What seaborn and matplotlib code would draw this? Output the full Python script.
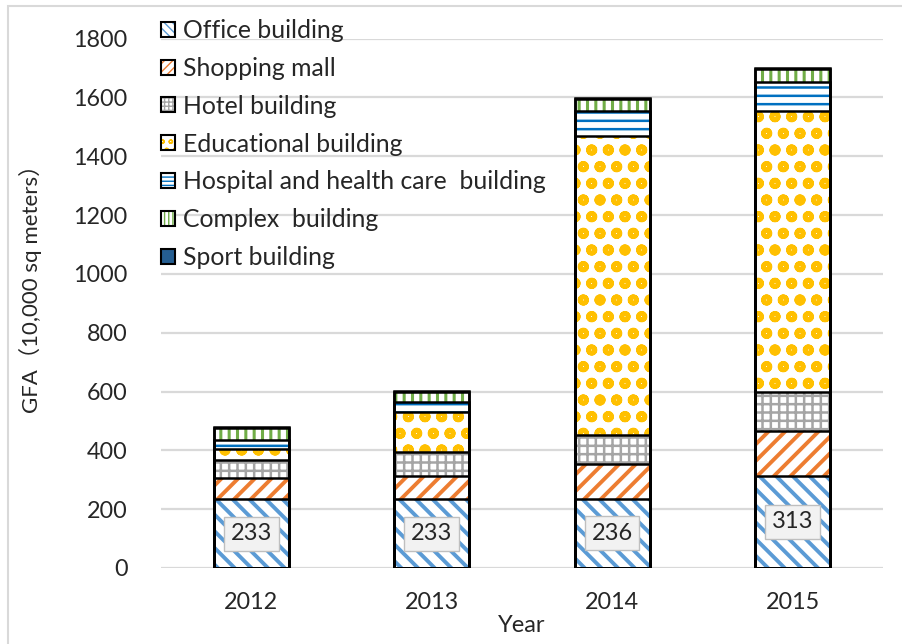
import matplotlib
matplotlib.use("Agg")
import matplotlib.pyplot as plt
import seaborn as sns
import pandas as pd
from matplotlib.patches import Patch, Rectangle
from matplotlib.legend_handler import HandlerTuple

# values (10,000 sq meters)
years = ["2012", "2013", "2014", "2015"]
office = [233, 233, 236, 313]
shopping = [73, 81, 118, 154]
hotel = [61, 80, 98, 131]
educational = [38, 138, 1015, 955]
hospital = [30, 34, 88, 99]
complex_b = [42, 34, 41, 46]
sport = [2, 2, 2, 2]

names = ["Office building", "Shopping mall", "Hotel building", "Educational building",
         "Hospital and health care  building", "Complex  building", "Sport building"]
series = [office, shopping, hotel, educational, hospital, complex_b, sport]
colors = ["#5B9BD5", "#ED7D31", "#A5A5A5", "#FFC000", "#0070C0", "#70AD47", "#255E91"]
hatches = ["\\\\", "//", "++", "o", "--", "||", None]
legend_hatches = ["\\\\\\\\", "////", "++++", "oo", "----", "||||", None]
hatch_lw = [2.8, 2.8, 1.8, 3.3, 1.8, 2.2, 1.0]

sns.set_style("white")
plt.rcParams["font.family"] = ["Lato", "Noto Sans CJK SC", "DejaVu Sans"]

df = pd.DataFrame({n: v for n, v in zip(names, series)}, index=years)
cum = df.cumsum(axis=1)

fig = plt.figure(figsize=(9.02, 6.44), dpi=100)
ax = fig.add_axes([161 / 902, 1 - 568 / 644, 722 / 902, (568 - 38.5) / 644])

bar_w = 0.415
# hatched fills, top layer first so lower layers cover them
for k in range(len(names) - 1, -1, -1):
    n = names[k]
    with plt.rc_context({"hatch.linewidth": hatch_lw[k]}):
        if hatches[k] is None:
            sns.barplot(x=years, y=cum[n].values, color=colors[k], saturation=1,
                        width=bar_w, linewidth=0, ax=ax, zorder=2)
        else:
            n_before = len(ax.patches)
            sns.barplot(x=years, y=cum[n].values, color="white", saturation=1,
                        width=bar_w, linewidth=0, edgecolor=colors[k], hatch=hatches[k],
                        ax=ax, zorder=2)
            for p in ax.patches[n_before:]:
                if hasattr(p, "set_hatch_linewidth"):
                    p.set_hatch_linewidth(hatch_lw[k])

# black segment outlines
for k in range(len(names)):
    sns.barplot(x=years, y=cum[names[k]].values, fill=False, color="black",
                width=bar_w, linewidth=1.8, ax=ax, zorder=3)

# value labels on office segments
for i, v in enumerate(office):
    ax.text(i, v / 2, str(v), ha="center", va="center", fontsize=17, color="#262626",
            zorder=5, bbox=dict(boxstyle="square,pad=0.28", facecolor="#F2F2F2",
                                edgecolor="#BFBFBF", linewidth=1))

ax.set_ylim(0, 1800)
ax.set_xlim(-0.5, 3.5)
ax.set_yticks(range(0, 1801, 200))
ax.grid(axis="y", color="#D9D9D9", linewidth=1.6)
ax.set_axisbelow(True)
for s in ax.spines.values():
    s.set_visible(False)
ax.tick_params(axis="y", length=0, pad=24, labelsize=16.8, labelcolor="#262626")
ax.tick_params(axis="x", length=0, pad=17, labelsize=16.8, labelcolor="#262626")
ax.set_xlabel("")
ax.set_ylabel("")

fig.text(30 / 902, 1 - 283 / 644, "GFA（10,000 sq meters）", rotation=90,
         ha="center", va="center", fontsize=16, color="#262626")
fig.text(522 / 902, 1 - 626 / 644, "Year", ha="center", va="center",
         fontsize=17, color="#262626")

# legend with hatched swatches and black frames
handles = []
for k in range(len(names)):
    if hatches[k] is None:
        fill = Patch(facecolor=colors[k], edgecolor="black", linewidth=1.5)
        handles.append(fill)
    else:
        fill = Patch(facecolor="white", edgecolor=colors[k], hatch=legend_hatches[k], linewidth=0)
        frame = Patch(facecolor="none", edgecolor="black", linewidth=1.5)
        handles.append((fill, frame))
fig.legend(handles, names, loc="upper left", bbox_to_anchor=(161 / 902, 1 - 19 / 644),
           frameon=False, fontsize=17.8, handlelength=0.55, handleheight=0.55,
           handletextpad=0.35, labelspacing=0.6, borderpad=0, borderaxespad=0,
           handler_map={tuple: HandlerTuple(ndivide=1, pad=0)}, labelcolor="#262626")

# chart frame
fig.patches.append(Rectangle((8 / 902, -0.05), 1.1, 1 - 6 / 644 + 0.05,
                             transform=fig.transFigure, fill=False,
                             edgecolor="#D9D9D9", linewidth=1.5))

fig.savefig("out.png", dpi=100)
